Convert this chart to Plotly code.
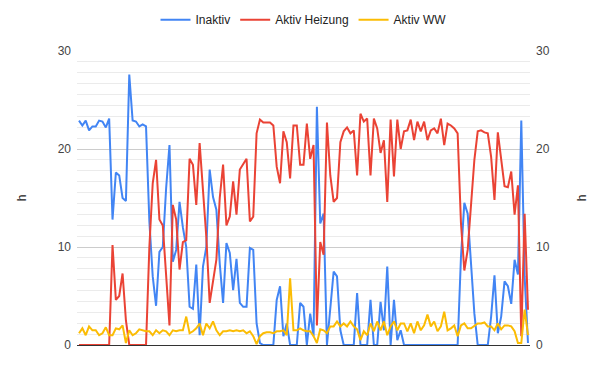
import plotly.graph_objects as go

# Daily values (hours)
inaktiv = [22.9, 22.4, 22.9, 21.9, 22.3, 22.3, 22.9, 22.8, 22.2, 23.1,
           12.8, 17.6, 17.3, 15.0, 14.7, 27.6, 22.9, 22.8, 22.3, 22.5,
           22.3, 12.6, 7.0, 4.0, 9.5, 10.0, 16.0, 20.4, 8.5, 9.7,
           14.6, 12.0, 10.0, 3.9, 3.7, 8.2, 1.0, 8.0, 10.0, 17.9,
           15.1, 13.8, 8.3, 4.3, 10.4, 9.4, 5.6, 8.8, 4.3, 3.9,
           3.9, 9.9, 9.7, 2.2, 0.2, 0.0, 0.0, 0.0, 0.0, 4.6,
           6.0, 0.9, 2.2, 0.0, 0.0, 0.0, 4.3, 3.9, 0.0, 3.2,
           0.9, 24.3, 12.4, 13.4, 0.0, 3.6, 7.5, 7.0, 1.5, 0.0,
           0.0, 0.0, 0.0, 5.3, 0.0, 0.0, 0.0, 4.6, 0.0, 0.0,
           4.4, 1.5, 8.0, 0.0, 4.6, 0.5, 1.5, 0.0, 0.0, 0.0,
           0.0, 0.0, 0.0, 0.0, 0.0, 0.0, 0.0, 0.0, 0.0, 0.0,
           0.0, 0.0, 0.0, 0.0, 9.0, 14.5, 13.4, 8.0, 3.2, 0.0,
           0.0, 0.0, 0.0, 2.9, 7.1, 1.2, 2.9, 6.5, 6.0, 4.2,
           8.7, 7.2, 22.9, 7.0, 0.2]
heizung = [0.0, 0.0, 0.0, 0.0, 0.0, 0.0, 0.0, 0.0, 0.0, 0.0,
           10.2, 4.6, 5.0, 7.3, 2.5, 0.0, 0.0, 0.0, 0.0, 0.0,
           0.0, 10.0, 16.5, 18.9, 12.8, 12.2, 6.6, 2.0, 14.3, 12.8,
           7.7, 10.5, 10.7, 19.0, 18.4, 14.3, 20.6, 16.0, 11.0, 4.3,
           6.5, 8.7, 15.0, 18.4, 12.2, 13.1, 16.7, 13.3, 17.9, 18.4,
           19.0, 12.6, 13.1, 21.6, 23.0, 22.7, 22.7, 22.7, 22.4, 18.2,
           16.5, 21.8, 20.7, 17.0, 22.4, 22.4, 18.4, 18.4, 22.6, 19.0,
           20.4, 2.0, 10.5, 9.2, 22.7, 17.3, 14.6, 15.0, 20.7, 21.8,
           22.2, 21.6, 21.9, 17.3, 23.6, 22.8, 23.1, 17.3, 23.1, 22.1,
           19.6, 20.9, 14.6, 23.0, 17.2, 23.0, 20.0, 21.8, 21.9, 23.0,
           20.9, 22.8, 21.8, 22.8, 20.9, 21.9, 22.1, 21.6, 23.1, 20.4,
           22.6, 22.4, 22.1, 21.6, 12.4, 7.6, 9.7, 14.5, 18.9, 21.8,
           21.9, 21.7, 21.6, 19.2, 14.8, 21.7, 18.9, 16.2, 16.1, 17.7,
           13.3, 16.3, 0.9, 13.4, 3.6]
ww = [1.2, 1.7, 1.0, 1.9, 1.5, 1.5, 1.0, 1.2, 1.8, 1.0,
      1.0, 1.7, 1.6, 2.0, 0.2, 1.5, 1.0, 1.2, 1.6, 1.5,
      1.4, 1.4, 1.0, 1.5, 1.2, 1.5, 1.4, 1.0, 1.5, 1.4,
      1.5, 1.5, 2.9, 1.2, 1.4, 1.7, 2.2, 1.0, 2.2, 1.7,
      2.4, 1.5, 1.0, 1.4, 1.4, 1.5, 1.4, 1.5, 1.4, 1.5,
      1.2, 1.4, 0.9, 0.1, 0.9, 1.2, 1.3, 1.3, 1.2, 1.4,
      1.4, 1.5, 1.0, 6.8, 1.5, 1.5, 1.7, 1.5, 1.4, 1.4,
      0.9, 0.2, 1.6, 1.5, 1.2, 1.9, 1.9, 2.4, 1.9, 2.2,
      1.9, 2.4, 1.9, 1.6, 0.5, 1.4, 1.0, 2.2, 1.4, 2.4,
      1.5, 2.4, 1.0, 1.9, 2.4, 1.5, 2.2, 2.2, 1.4, 2.2,
      1.2, 2.4, 1.5, 2.0, 3.1, 1.9, 2.4, 1.4, 1.9, 3.4,
      1.5, 1.7, 2.0, 0.9, 2.0, 2.2, 1.7, 1.7, 2.0, 2.2,
      2.2, 2.3, 1.9, 1.9, 1.5, 2.2, 1.6, 2.0, 2.0, 1.9,
      1.4, 0.2, 0.2, 3.6, 1.0]

series_names = ["Inaktiv", "Aktiv Heizung", "Aktiv WW"]
colors = ["#4285F4", "#EA4335", "#FBBC04"]
y_ticks = [0, 10, 20, 30]
days = list(range(len(inaktiv)))

FONT = "Arial, Liberation Sans, sans-serif"

fig = go.Figure()
fig.add_trace(go.Scatter(x=days, y=inaktiv, mode="lines", name=series_names[0],
                         line=dict(color=colors[0], width=2)))
fig.add_trace(go.Scatter(x=days, y=heizung, mode="lines", name=series_names[1],
                         line=dict(color=colors[1], width=2)))
fig.add_trace(go.Scatter(x=days, y=ww, mode="lines", name=series_names[2],
                         line=dict(color=colors[2], width=2), yaxis="y2"))

yaxis_common = dict(
    range=[0, 30], tickvals=y_ticks, ticks="", showline=False, zeroline=False,
    gridcolor="#cccccc", gridwidth=1,
    minor=dict(dtick=10 / 9, tick0=0, showgrid=True, gridcolor="#ebebeb", gridwidth=1),
    tickfont=dict(family=FONT, size=12, color="#444444"),
    title=dict(text="h", font=dict(family=FONT, size=12, color="#222222"), standoff=28),
    fixedrange=True,
)

# The page body adds an 8px offset, so the figure is 8px smaller on each axis
fig.update_layout(
    width=592, height=363,
    margin=dict(l=69, r=70, t=43, b=26, autoexpand=False),
    paper_bgcolor="white", plot_bgcolor="white",
    font=dict(family=FONT, size=12, color="#222222"),
    xaxis=dict(range=[-0.6, len(days) - 0.4], showticklabels=False, showgrid=False,
               zeroline=False, showline=True, linecolor="#333333", linewidth=1, ticks=""),
    yaxis=dict(**yaxis_common, side="left", ticklabelstandoff=5),
    yaxis2=dict(**yaxis_common, side="right", overlaying="y", ticklabelstandoff=5),
    legend=dict(orientation="h", x=0.5, xanchor="center", y=1.156, yanchor="top",
                yref="paper", font=dict(family=FONT, size=12, color="#222222"),
                itemwidth=30, traceorder="normal", bgcolor="rgba(0,0,0,0)"),
    showlegend=True,
)

fig.write_html("out.html")
